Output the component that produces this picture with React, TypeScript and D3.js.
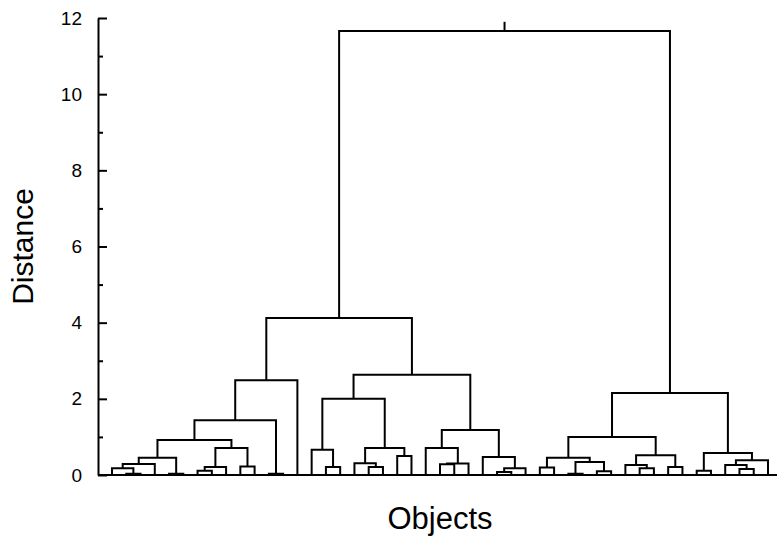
import React, { useEffect, useRef } from 'react';
import * as d3 from 'd3';

// dendrogram: 47 objects, merges in linkage order (ids >= 47 point to earlier merges)
const leafCount = 47;
const merges: [number, number, number][] = [
  [1, 2, 0.03], [0, 47, 0.18], [48, 3, 0.29], [4, 5, 0.03], [49, 50, 0.45],
  [6, 7, 0.11], [52, 8, 0.21], [9, 10, 0.22], [53, 54, 0.71], [51, 55, 0.92],
  [11, 12, 0.03], [56, 57, 1.44], [58, 13, 2.49], [15, 16, 0.21], [14, 60, 0.66],
  [18, 19, 0.21], [17, 62, 0.31], [20, 21, 0.5], [63, 64, 0.71], [61, 65, 2.0],
  [23, 24, 0.28], [67, 25, 0.3], [22, 68, 0.71], [27, 28, 0.08], [70, 29, 0.18],
  [26, 71, 0.47], [69, 72, 1.18], [66, 73, 2.63], [59, 74, 4.12],
  [30, 31, 0.2], [32, 33, 0.03], [34, 35, 0.1], [77, 78, 0.34], [76, 79, 0.45],
  [37, 38, 0.18], [36, 81, 0.26], [39, 40, 0.21], [82, 83, 0.52], [80, 84, 1.0],
  [41, 42, 0.11], [44, 45, 0.16], [43, 87, 0.26], [88, 46, 0.39], [86, 89, 0.58],
  [85, 90, 2.15], [75, 91, 11.66],
];
const rootTop = 11.9;
const majorTicks = [0, 2, 4, 6, 8, 10, 12];
const minorTicks = [1, 3, 5, 7, 9, 11];

const W = 777;
const H = 539;
const plot = { left: 98, right: 777, top: 18, bottom: 475 };

const App: React.FC = () => {
  const axisRef = useRef<SVGGElement>(null);

  const x = d3.scaleLinear().domain([0, leafCount - 1]).range([112, 768]);
  const y = d3.scaleLinear().domain([0, 12]).range([plot.bottom, plot.top]);

  // positions of every node: leaves first, then merges
  const nodeX: number[] = d3.range(leafCount).map(i => x(i));
  const nodeH: number[] = d3.range(leafCount).map(() => 0);
  merges.forEach(([a, b, h]) => {
    nodeX.push((nodeX[a] + nodeX[b]) / 2);
    nodeH.push(h);
  });

  const links = merges.map(([a, b, h]) =>
    `M${nodeX[a]},${y(nodeH[a])}V${y(h)}H${nodeX[b]}V${y(nodeH[b])}`
  );
  const rootId = nodeX.length - 1;

  useEffect(() => {
    if (!axisRef.current) return;
    const g = d3.select(axisRef.current);
    g.selectAll('*').remove();

    const major = g.append('g')
      .attr('transform', `translate(${plot.left},0)`)
      .call(d3.axisLeft(y).tickValues(majorTicks).tickSize(-9).tickSizeOuter(0).tickPadding(16).tickFormat(d3.format('d')));
    major.select('.domain').attr('stroke', '#000').attr('stroke-width', 2);
    major.selectAll('.tick line').attr('stroke', '#000').attr('stroke-width', 2);
    major.selectAll('.tick text')
      .attr('fill', '#000')
      .style('font-family', '"Liberation Sans", Arial, sans-serif')
      .style('font-size', '19px');

    const minor = g.append('g')
      .attr('transform', `translate(${plot.left},0)`)
      .call(d3.axisLeft(y).tickValues(minorTicks).tickSize(-5).tickFormat(() => ''));
    minor.select('.domain').remove();
    minor.selectAll('.tick line').attr('stroke', '#000').attr('stroke-width', 2);
  }, []);

  return (
    <div style={{ position: 'fixed', left: 0, top: 0, width: W, height: H, background: '#fff' }}>
      <svg width={W} height={H} viewBox={`0 0 ${W} ${H}`}>
        <line x1={plot.left} x2={plot.right} y1={plot.bottom} y2={plot.bottom} stroke="#000" strokeWidth={2} />
        <g ref={axisRef} />
        <g fill="none" stroke="#000" strokeWidth={2}>
          {links.map((d, i) => <path key={i} d={d} />)}
          <path d={`M${nodeX[rootId]},${y(nodeH[rootId])}V${y(rootTop)}`} />
        </g>
        <text
          transform={`translate(33,${(plot.top + plot.bottom) / 2}) rotate(-90)`}
          textAnchor="middle"
          style={{ fontFamily: '"Liberation Sans", Arial, sans-serif', fontSize: 30 }}
        >
          Distance
        </text>
        <text
          x={440}
          y={529}
          textAnchor="middle"
          style={{ fontFamily: '"Liberation Sans", Arial, sans-serif', fontSize: 31 }}
        >
          Objects
        </text>
      </svg>
    </div>
  );
};

export default App;
